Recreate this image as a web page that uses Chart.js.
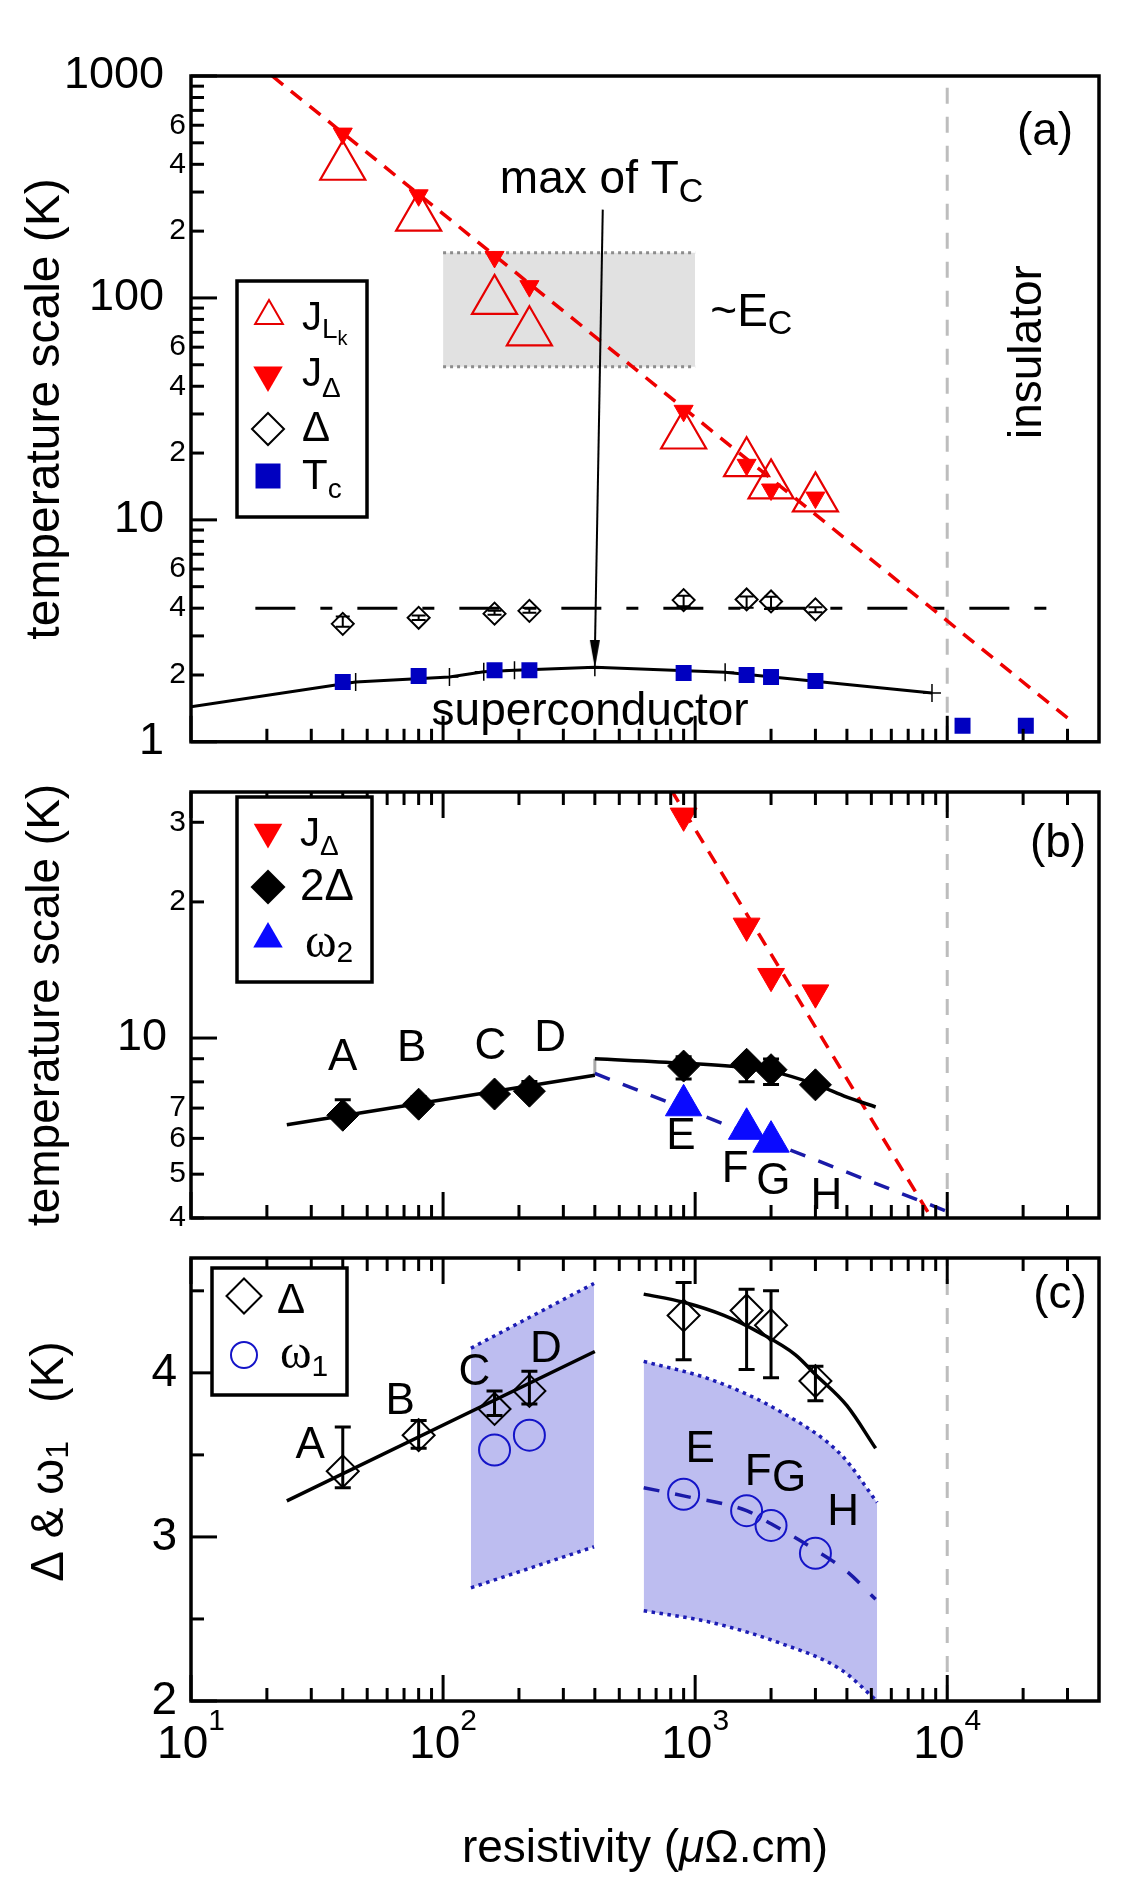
<!DOCTYPE html>
<html>
<head>
<meta charset="utf-8">
<title>temperature scales vs resistivity</title>
<script src="https://cdn.jsdelivr.net/npm/chart.js@4.4.1/dist/chart.umd.min.js"></script>
<style>
  html, body { margin: 0; padding: 0; background: #fff; }
  #fig { position: relative; width: 1132px; height: 1892px; overflow: hidden; }
  #fig canvas { position: absolute; left: 0; }
</style>
</head>
<body>
<div id="fig">
  <canvas id="panel_a" width="1132" height="770" style="top:0px"></canvas>
  <canvas id="panel_b" width="1132" height="470" style="top:770px"></canvas>
  <canvas id="panel_c" width="1132" height="652" style="top:1240px"></canvas>
</div>
<script>
const FONT = '"Liberation Sans", Arial, Helvetica, sans-serif';
const SERIF = '"Liberation Serif", "Times New Roman", serif';
Chart.defaults.font.family = FONT;

// ---------- data ----------
// samples A..H, resistivity (uOhm.cm)
const rho = [40, 80, 160, 220, 900, 1600, 2000, 3000];
const sample_names = ['A', 'B', 'C', 'D', 'E', 'F', 'G', 'H'];

// panel (a)
const j_lk = [390, 230, 97, 70, 24, 18, 14.3, 12.5];
const j_delta = [550, 290, 153, 113, 31, 17.7, 13.7, 12.6];
const delta = [3.40, 3.62, 3.78, 3.89, 4.35, 4.38, 4.29, 3.95];
const delta_lo = [3.30, 3.54, 3.74, 3.81, 4.08, 4.02, 3.97, 3.83];
const delta_hi = [3.67, 3.71, 3.89, 4.01, 4.55, 4.51, 4.50, 4.04];
const tc = [1.86, 1.98, 2.10, 2.10, 2.04, 2.00, 1.96, 1.88];
const rho_ins = [11500, 20500];
const tc_ins = [1.18, 1.18];
const tc_curve_x = [10, 45, 106, 145, 192, 400, 1315, 8700];
const tc_curve_y = [1.44, 1.86, 1.96, 2.07, 2.10, 2.17, 2.06, 1.66];
const j_fit_x = [21, 30000];
const j_fit_y = [1000, 1.28];
const delta_level_x = [18, 30000];
const delta_level_y = [4, 4];
const ec_x = [100, 1000];
const ec_top = [160, 160];
const ec_bottom = [49, 49];
const arrow_x = [430, 400];
const arrow_y = [250, 2.48];
const ins_x = [10000, 10000];

// panel (b)
const two_delta = [6.75, 7.14, 7.52, 7.63, 8.67, 8.75, 8.51, 7.88];
const two_delta_lo = [6.60, 7.08, 7.48, 7.62, 8.12, 8.00, 7.89, 7.66];
const two_delta_hi = [7.30, 7.42, 7.77, 8.01, 9.09, 9.02, 8.99, 8.08];
const rho_w2 = [900, 1600, 2000];
const omega2 = [7.1, 6.3, 5.9];
const fit_left_x = [24, 400];
const two_delta_fit_left = [6.43, 8.27];
const fit_right_x = [400, 900, 1600, 2000, 3000, 4000, 5200];
const two_delta_fit_right = [9.0, 8.8, 8.6, 8.45, 7.9, 7.4, 7.04];
const w2_fit_x = [400, 11000];
const w2_fit_y = [8.35, 4.05];
const step_x = [400, 400];
const step_y = [8.27, 9.0];

// panel (c)
const rho_w1 = [160, 220, 900, 1600, 2000, 3000];
const omega1 = [3.53, 3.62, 3.26, 3.16, 3.07, 2.90];
const delta_fit_left = [3.22, 4.13];
const delta_fit_right_x = [625, 900, 1300, 1800, 2500, 3000, 4000, 5200];
const delta_fit_right = [4.48, 4.43, 4.35, 4.245, 4.11, 3.99, 3.80, 3.54];
const w1_fit_x = [625, 900, 1600, 2000, 3000, 4000, 5200];
const w1_fit_y = [3.30, 3.25, 3.16, 3.08, 2.92, 2.79, 2.62];
const band1_x = [129, 397];
const band1_top = [4.15, 4.545];
const band1_bottom = [2.69, 2.94];
const band2_x = [625, 1150, 2200, 3800, 5270];
const band2_top = [4.07, 3.96, 3.76, 3.50, 3.21];
const band2_bottom = [2.55, 2.48, 2.35, 2.19, 2.0];

// ticks
const x_ticks = [10, 20, 30, 40, 50, 60, 70, 80, 90, 100, 200, 300, 400, 500, 600, 700, 800, 900,
  1000, 2000, 3000, 4000, 5000, 6000, 7000, 8000, 9000, 10000, 20000, 30000];
const x_major = [10, 100, 1000, 10000];
const x_exp = ['1', '2', '3', '4'];
const y_ticks_a = [1, 2, 3, 4, 5, 6, 7, 8, 9, 10, 20, 30, 40, 50, 60, 70, 80, 90,
  100, 200, 300, 400, 500, 600, 700, 800, 900, 1000];
const y_labels_a = ['1', '2', '', '4', '', '6', '', '', '', '10', '2', '', '4', '', '6', '', '', '',
  '100', '2', '', '4', '', '6', '', '', '', '1000'];
const y_major_a = [1, 10, 100, 1000];
const y_ticks_b = [4, 5, 6, 7, 8, 9, 10, 20, 30];
const y_labels_b = ['4', '5', '6', '7', '', '', '10', '2', '3'];
const y_major_b = [10];
const y_ticks_c = [2, 2.5, 3, 3.5, 4, 4.5];
const y_labels_c = ['2', '', '3', '', '4', ''];
const y_major_c = [2, 3, 4];

// ---------- helpers ----------
const xy = (xs, ys) => xs.map((v, i) => ({x: v, y: ys[i]}));
const NONE = 'rgba(0,0,0,0)';

function curve(xs, ys, color, width, dash, order, extra) {
  return Object.assign({
    data: xy(xs, ys), showLine: true, borderColor: color, borderWidth: width,
    borderDash: dash || [], pointRadius: 0, fill: false, order: order, clip: 0
  }, extra || {});
}
function marks(xs, ys, style, radius, stroke, fill, lw, order, extra) {
  return Object.assign({
    data: xy(xs, ys), showLine: false, pointStyle: style, pointRadius: radius,
    pointBorderColor: stroke, pointBackgroundColor: fill, pointBorderWidth: lw,
    borderColor: stroke, backgroundColor: fill, order: order
  }, extra || {});
}

// arrow head for "max of Tc"
const arrow_head = document.createElement('canvas');
arrow_head.width = 12; arrow_head.height = 28;
(function () {
  const c = arrow_head.getContext('2d');
  c.fillStyle = '#000';
  c.beginPath(); c.moveTo(1, 0); c.lineTo(11, 0); c.lineTo(6, 28); c.closePath(); c.fill();
})();

function fontOf(p) {
  return [p[4] || '', p[1] + 'px', p[3] || FONT].filter(Boolean).join(' ');
}
function rich(ctx, x, y, parts, align) {
  let w = 0;
  parts.forEach(p => { ctx.font = fontOf(p); w += ctx.measureText(p[0]).width; });
  let cx = align === 'center' ? x - w / 2 : (align === 'right' ? x - w : x);
  ctx.textAlign = 'left';
  parts.forEach(p => {
    ctx.font = fontOf(p);
    ctx.fillText(p[0], cx, y + (p[2] || 0));
    cx += ctx.measureText(p[0]).width;
  });
}
function marker(ctx, kind, x, y, r, stroke, fill, lw) {
  ctx.beginPath();
  if (kind === 'up' || kind === 'down') {
    const s = kind === 'up' ? 1 : -1;
    ctx.moveTo(x, y - s * r);
    ctx.lineTo(x + r * 0.866, y + s * r / 2);
    ctx.lineTo(x - r * 0.866, y + s * r / 2);
    ctx.closePath();
  } else if (kind === 'diamond') {
    ctx.moveTo(x, y - r); ctx.lineTo(x + r, y); ctx.lineTo(x, y + r); ctx.lineTo(x - r, y); ctx.closePath();
  } else if (kind === 'square') {
    ctx.rect(x - r, y - r, 2 * r, 2 * r);
  } else {
    ctx.arc(x, y, r, 0, Math.PI * 2);
  }
  if (fill) { ctx.fillStyle = fill; ctx.fill(); }
  if (stroke) { ctx.strokeStyle = stroke; ctx.lineWidth = lw; ctx.stroke(); }
}

function drawErrorBars(chart) {
  const {ctx, chartArea: a, scales: {y}} = chart;
  ctx.save();
  ctx.beginPath(); ctx.rect(a.left, a.top, a.right - a.left, a.bottom - a.top); ctx.clip();
  chart.data.datasets.forEach((ds, i) => {
    if (!ds.errLo) return;
    const meta = chart.getDatasetMeta(i);
    ctx.strokeStyle = ds.borderColor;
    ctx.lineWidth = ds.errWidth || 2.5;
    const c = ds.errCap || 8;
    meta.data.forEach((pt, j) => {
      const y1 = y.getPixelForValue(ds.errLo[j]);
      const y2 = y.getPixelForValue(ds.errHi[j]);
      ctx.beginPath();
      ctx.moveTo(pt.x, y1); ctx.lineTo(pt.x, y2);
      ctx.moveTo(pt.x - c, y1); ctx.lineTo(pt.x + c, y1);
      ctx.moveTo(pt.x - c, y2); ctx.lineTo(pt.x + c, y2);
      ctx.stroke();
    });
  });
  ctx.restore();
}

function drawAxes(chart, p) {
  const {ctx, chartArea: a, scales: {x, y}} = chart;
  const seg = (x1, y1, x2, y2) => { ctx.beginPath(); ctx.moveTo(x1, y1); ctx.lineTo(x2, y2); ctx.stroke(); };
  ctx.save();
  ctx.strokeStyle = '#000';
  ctx.lineWidth = 3;
  // inward ticks
  y.ticks.forEach(t => {
    const py = y.getPixelForValue(t.value);
    seg(a.left, py, a.left + (p.yMajor.includes(t.value) ? 26 : 13), py);
  });
  x.ticks.forEach(t => {
    const px = x.getPixelForValue(t.value);
    const len = x_major.includes(t.value) ? 26 : 13;
    if (p.ticksBottom) seg(px, a.bottom, px, a.bottom - len);
    if (p.ticksTop) seg(px, a.top, px, a.top + len);
  });
  ctx.lineWidth = 3.5;
  ctx.strokeRect(a.left, a.top, a.right - a.left, a.bottom - a.top);

  // y tick labels
  ctx.fillStyle = '#000';
  ctx.textAlign = 'right';
  ctx.textBaseline = 'middle';
  y.ticks.forEach((t, i) => {
    const txt = p.yLabels[i];
    if (!txt) return;
    const major = p.yMajor.includes(t.value);
    ctx.font = (major ? p.majorSize : p.minorSize) + 'px ' + FONT;
    ctx.fillText(txt, a.left - (major ? p.majorGap : p.minorGap), y.getPixelForValue(t.value));
  });

  // x tick labels 10^n
  if (p.xLabels) {
    ctx.textBaseline = 'alphabetic';
    x_major.forEach((v, i) => {
      const px = x.getPixelForValue(v);
      ctx.font = '46px ' + FONT;
      const w1 = ctx.measureText('10').width;
      ctx.font = '30px ' + FONT;
      const w2 = ctx.measureText(x_exp[i]).width;
      const x0 = px - (w1 + w2) / 2;
      ctx.textAlign = 'left';
      ctx.font = '46px ' + FONT;
      ctx.fillText('10', x0, a.bottom + 57);
      ctx.font = '30px ' + FONT;
      ctx.fillText(x_exp[i], x0 + w1, a.bottom + 29);
    });
    ctx.textBaseline = 'alphabetic';
    rich(ctx, (a.left + a.right) / 2, a.bottom + 161,
      [['resistivity (', 46], ['\u03bc', 46, 0, FONT, 'italic'], ['\u03a9.cm)', 46]], 'center');
  }

  // y title (rotated)
  ctx.save();
  ctx.translate(p.yTitle.x, (a.top + a.bottom) / 2 + (p.yTitle.dy || 0));
  ctx.rotate(-Math.PI / 2);
  ctx.textBaseline = 'middle';
  rich(ctx, 0, 0, p.yTitle.parts, 'center');
  ctx.restore();

  // panel tag
  ctx.textBaseline = 'middle';
  rich(ctx, a.right + p.tag.dx, a.top + p.tag.dy, [[p.tag.text, 46]], 'center');
  ctx.restore();
}

function drawNotes(chart, p) {
  const {ctx, scales: {x, y}} = chart;
  ctx.save();
  ctx.fillStyle = '#000';
  p.notes.forEach(n => {
    const px = x.getPixelForValue(n.at[0]);
    const py = y.getPixelForValue(n.at[1]);
    ctx.textBaseline = n.baseline || 'alphabetic';
    if (n.rotate) {
      ctx.save(); ctx.translate(px, py); ctx.rotate(-Math.PI / 2);
      rich(ctx, 0, 0, n.parts, n.align); ctx.restore();
    } else {
      rich(ctx, px, py, n.parts, n.align);
    }
  });
  ctx.restore();
}

function drawLegend(chart, p) {
  const ctx = chart.ctx;
  const L = p.legend;
  const off = p.canvasTop;
  ctx.save();
  ctx.fillStyle = '#fff';
  ctx.strokeStyle = '#000';
  ctx.lineWidth = 3.5;
  const [x1, y1, x2, y2] = L.box;
  ctx.fillRect(x1, y1 - off, x2 - x1, y2 - y1);
  ctx.strokeRect(x1, y1 - off, x2 - x1, y2 - y1);
  L.rows.forEach(r => {
    marker(ctx, r.kind, r.mx, r.my - off, r.r, r.stroke, r.fill, r.lw);
    ctx.fillStyle = '#000';
    ctx.textBaseline = 'alphabetic';
    rich(ctx, r.tx, r.ty - off, r.parts, 'left');
  });
  ctx.restore();
}

function sampleNotes(xs, ys) {
  return sample_names.map((s, i) => ({at: [xs[i], ys[i]], align: 'center', baseline: 'middle', parts: [[s, 44]]}));
}

function makePanel(id, p) {
  const plugin = {
    id: 'panel_' + id,
    afterDatasetsDraw(chart) { drawErrorBars(chart); },
    afterDraw(chart) { drawAxes(chart, p); drawNotes(chart, p); drawLegend(chart, p); }
  };
  return new Chart(document.getElementById(id).getContext('2d'), {
    type: 'line',
    data: {datasets: p.datasets},
    options: {
      responsive: false,
      animation: false,
      devicePixelRatio: 1,
      events: [],
      layout: {padding: {left: 0, right: 33, top: p.padTop, bottom: p.padBottom}},
      plugins: {legend: {display: false}, tooltip: {enabled: false}},
      scales: {
        x: {
          type: 'logarithmic', min: 10, max: 40000, position: 'bottom',
          ticks: {display: false}, grid: {display: false}, border: {display: false},
          afterBuildTicks: s => { s.ticks = x_ticks.map(v => ({value: v})); },
          afterFit: s => { s.height = p.xAxisHeight; }
        },
        y: {
          type: p.yType, min: p.yMin, max: p.yMax, position: 'left',
          ticks: {display: false}, grid: {display: false}, border: {display: false},
          afterBuildTicks: s => { s.ticks = p.yTicks.map(v => ({value: v})); },
          afterFit: s => { s.width = 191; }
        }
      }
    },
    plugins: [plugin]
  });
}

// ---------- panel (a) ----------
const RED = '#ff0000';
const panel_a = makePanel('panel_a', {
  canvasTop: 0, padTop: 76, padBottom: 14, xAxisHeight: 0,
  yType: 'logarithmic', yMin: 1, yMax: 1000,
  yTicks: y_ticks_a, yLabels: y_labels_a, yMajor: y_major_a,
  majorSize: 45, minorSize: 30, majorGap: 27, minorGap: 5,
  ticksTop: false, ticksBottom: true, xLabels: false,
  yTitle: {x: 46, parts: [['temperature scale (K)', 48]]},
  tag: {text: '(a)', dx: -54, dy: 56},
  notes: [
    {at: [168, 297], align: 'left', parts: [['max of T', 46], ['C', 34, 9]]},
    {at: [1148, 75], align: 'left', parts: [['~E', 46], ['C', 34, 8]]},
    {at: [383, 1.19], align: 'center', parts: [['superconductor', 46]]},
    {at: [20900, 57], align: 'center', baseline: 'middle', rotate: true, parts: [['insulator', 46]]}
  ],
  legend: {
    box: [237, 281, 367, 517],
    rows: [
      {kind: 'up', mx: 269, my: 316, r: 16, stroke: '#e60000', fill: null, lw: 2, tx: 302, ty: 330,
        parts: [['J', 40], ['L', 28, 8], ['k', 20, 15]]},
      {kind: 'down', mx: 268, my: 375, r: 17, stroke: null, fill: RED, lw: 0, tx: 302, ty: 386,
        parts: [['J', 40], ['\u0394', 28, 11]]},
      {kind: 'diamond', mx: 268, my: 429, r: 16, stroke: '#000', fill: null, lw: 2, tx: 302, ty: 441,
        parts: [['\u0394', 42]]},
      {kind: 'square', mx: 268, my: 476, r: 12.5, stroke: null, fill: '#0000c0', lw: 0, tx: 302, ty: 489,
        parts: [['T', 42], ['c', 28, 9]]}
    ]
  },
  datasets: [
    curve(ec_x, ec_top, '#8c8c8c', 3, [3, 4], 20, {fill: '+1', backgroundColor: '#e1e1e1'}),
    curve(ec_x, ec_bottom, '#8c8c8c', 3, [3, 4], 19),
    curve(ins_x, [1, 1000], '#bdbdbd', 3, [16, 13], 15),
    curve(delta_level_x, delta_level_y, '#000', 3, [40, 25, 12, 25], 12),
    curve(j_fit_x, j_fit_y, '#ee0000', 3.5, [14, 10], 10),
    curve(tc_curve_x, tc_curve_y, '#000', 3, [], 9,
      {pointStyle: 'cross', pointRadius: [0, 9, 9, 9, 9, 9, 9, 9], pointBorderColor: '#000', pointBorderWidth: 1.5}),
    curve(arrow_x, arrow_y, '#000', 2, [], 8, {pointStyle: arrow_head, pointRadius: [0, 6], clip: false}),
    marks(rho, j_lk, 'triangle', 26, '#e60000', NONE, 2.2, 5),
    marks(rho, j_delta, 'triangle', 11, RED, RED, 1, 4, {pointRotation: 180}),
    marks(rho, delta, 'rectRot', 11, '#000', NONE, 2, 3,
      {errLo: delta_lo, errHi: delta_hi, errCap: 7, errWidth: 2}),
    marks(rho, tc, 'rect', 11.3, '#0000c0', '#0000c0', 0, 2),
    marks(rho_ins, tc_ins, 'rect', 11.3, '#0000c0', '#0000c0', 0, 2)
  ]
});

// ---------- panel (b) ----------
const BLUE_DASH = '#1a1aa8';
const panel_b = makePanel('panel_b', {
  canvasTop: 770, padTop: 6, padBottom: 10, xAxisHeight: 0,
  yType: 'logarithmic', yMin: 4, yMax: 35,
  yTicks: y_ticks_b, yLabels: y_labels_b, yMajor: y_major_b,
  majorSize: 45, minorSize: 30, majorGap: 24, minorGap: 5,
  ticksTop: true, ticksBottom: true, xLabels: false,
  yTitle: {x: 46, parts: [['temperature scale (K)', 46]]},
  tag: {text: '(b)', dx: -41, dy: 52},
  notes: sampleNotes([40, 75, 154, 266, 879, 1442, 2042, 3313],
                     [9.05, 9.45, 9.58, 9.95, 6.04, 5.12, 4.81, 4.46]),
  legend: {
    box: [237, 797, 372, 982],
    rows: [
      {kind: 'down', mx: 268, my: 832, r: 16.5, stroke: null, fill: RED, lw: 0, tx: 300, ty: 846,
        parts: [['J', 40], ['\u0394', 28, 9]]},
      {kind: 'diamond', mx: 268, my: 887, r: 17.5, stroke: null, fill: '#000', lw: 0, tx: 300, ty: 900,
        parts: [['2\u0394', 44]]},
      {kind: 'up', mx: 268, my: 939, r: 17, stroke: null, fill: '#0a0aff', lw: 0, tx: 305, ty: 957,
        parts: [['\u03c9', 48, 0, SERIF], ['2', 30, 5]]}
    ]
  },
  datasets: [
    curve(ins_x, [4, 35], '#bdbdbd', 3, [16, 13], 15),
    curve(step_x, step_y, '#a8a8a8', 3, [], 14),
    curve(j_fit_x, j_fit_y, '#ee0000', 3.5, [14, 10], 10),
    curve(w2_fit_x, w2_fit_y, BLUE_DASH, 3.5, [16, 14], 9),
    curve(fit_left_x, two_delta_fit_left, '#000', 3.5, [], 8),
    curve(fit_right_x, two_delta_fit_right, '#000', 3.5, [], 8, {cubicInterpolationMode: 'monotone'}),
    marks(rho, j_delta, 'triangle', 15.5, RED, RED, 1, 4, {pointRotation: 180}),
    marks(rho_w2, omega2, 'triangle', 21, '#0a0aff', '#0a0aff', 1, 3),
    marks(rho, two_delta, 'rectRot', 16, '#000', '#000', 1, 2,
      {errLo: two_delta_lo, errHi: two_delta_hi, errCap: 8, errWidth: 3})
  ]
});

// ---------- panel (c) ----------
const BAND = '#bdbdf0';
const BAND_EDGE = '#1c1cb4';
const panel_c = makePanel('panel_c', {
  canvasTop: 1240, padTop: 8, padBottom: 0, xAxisHeight: 191,
  yType: 'linear', yMin: 2, yMax: 4.7,
  yTicks: y_ticks_c, yLabels: y_labels_c, yMajor: y_major_c,
  majorSize: 46, minorSize: 30, majorGap: 14, minorGap: 5,
  ticksTop: true, ticksBottom: true, xLabels: true,
  yTitle: {x: 50, dy: -18, parts: [['\u0394 & \u03c9', 46], ['1', 32, 9], ['   (K)', 46]]},
  tag: {text: '(c)', dx: -39, dy: 37},
  notes: sampleNotes([29.7, 67.5, 133, 256, 1048, 1778, 2360, 3865],
                     [3.557, 3.826, 4.0, 4.138, 3.533, 3.389, 3.353, 3.144]),
  legend: {
    box: [212, 1268, 347, 1395],
    rows: [
      {kind: 'diamond', mx: 244, my: 1296, r: 17.5, stroke: '#000', fill: null, lw: 2, tx: 277, ty: 1313,
        parts: [['\u0394', 42]]},
      {kind: 'circle', mx: 244, my: 1355, r: 13, stroke: '#1414c8', fill: null, lw: 2, tx: 280, ty: 1368,
        parts: [['\u03c9', 48, 0, SERIF], ['1', 30, 8]]}
    ]
  },
  datasets: [
    curve(band1_x, band1_top, BAND_EDGE, 3.5, [3.5, 4.5], 20, {fill: '+1', backgroundColor: BAND}),
    curve(band1_x, band1_bottom, BAND_EDGE, 3.5, [3.5, 4.5], 19),
    curve(band2_x, band2_top, BAND_EDGE, 3.5, [3.5, 4.5], 18,
      {fill: '+1', backgroundColor: BAND, cubicInterpolationMode: 'monotone'}),
    curve(band2_x, band2_bottom, BAND_EDGE, 3.5, [3.5, 4.5], 17, {cubicInterpolationMode: 'monotone'}),
    curve(ins_x, [2, 4.7], '#bdbdbd', 3, [16, 13], 15),
    curve(fit_left_x, delta_fit_left, '#000', 3.5, [], 8),
    curve(delta_fit_right_x, delta_fit_right, '#000', 3.5, [], 8, {cubicInterpolationMode: 'monotone'}),
    curve(w1_fit_x, w1_fit_y, BLUE_DASH, 3.5, [16, 16], 7, {cubicInterpolationMode: 'monotone'}),
    marks(rho, delta, 'rectRot', 16, '#000', NONE, 2, 3,
      {errLo: delta_lo, errHi: delta_hi, errCap: 8, errWidth: 3}),
    marks(rho_w1, omega1, 'circle', 15.5, '#1414c8', NONE, 2, 2)
  ]
});
</script>
</body>
</html>
